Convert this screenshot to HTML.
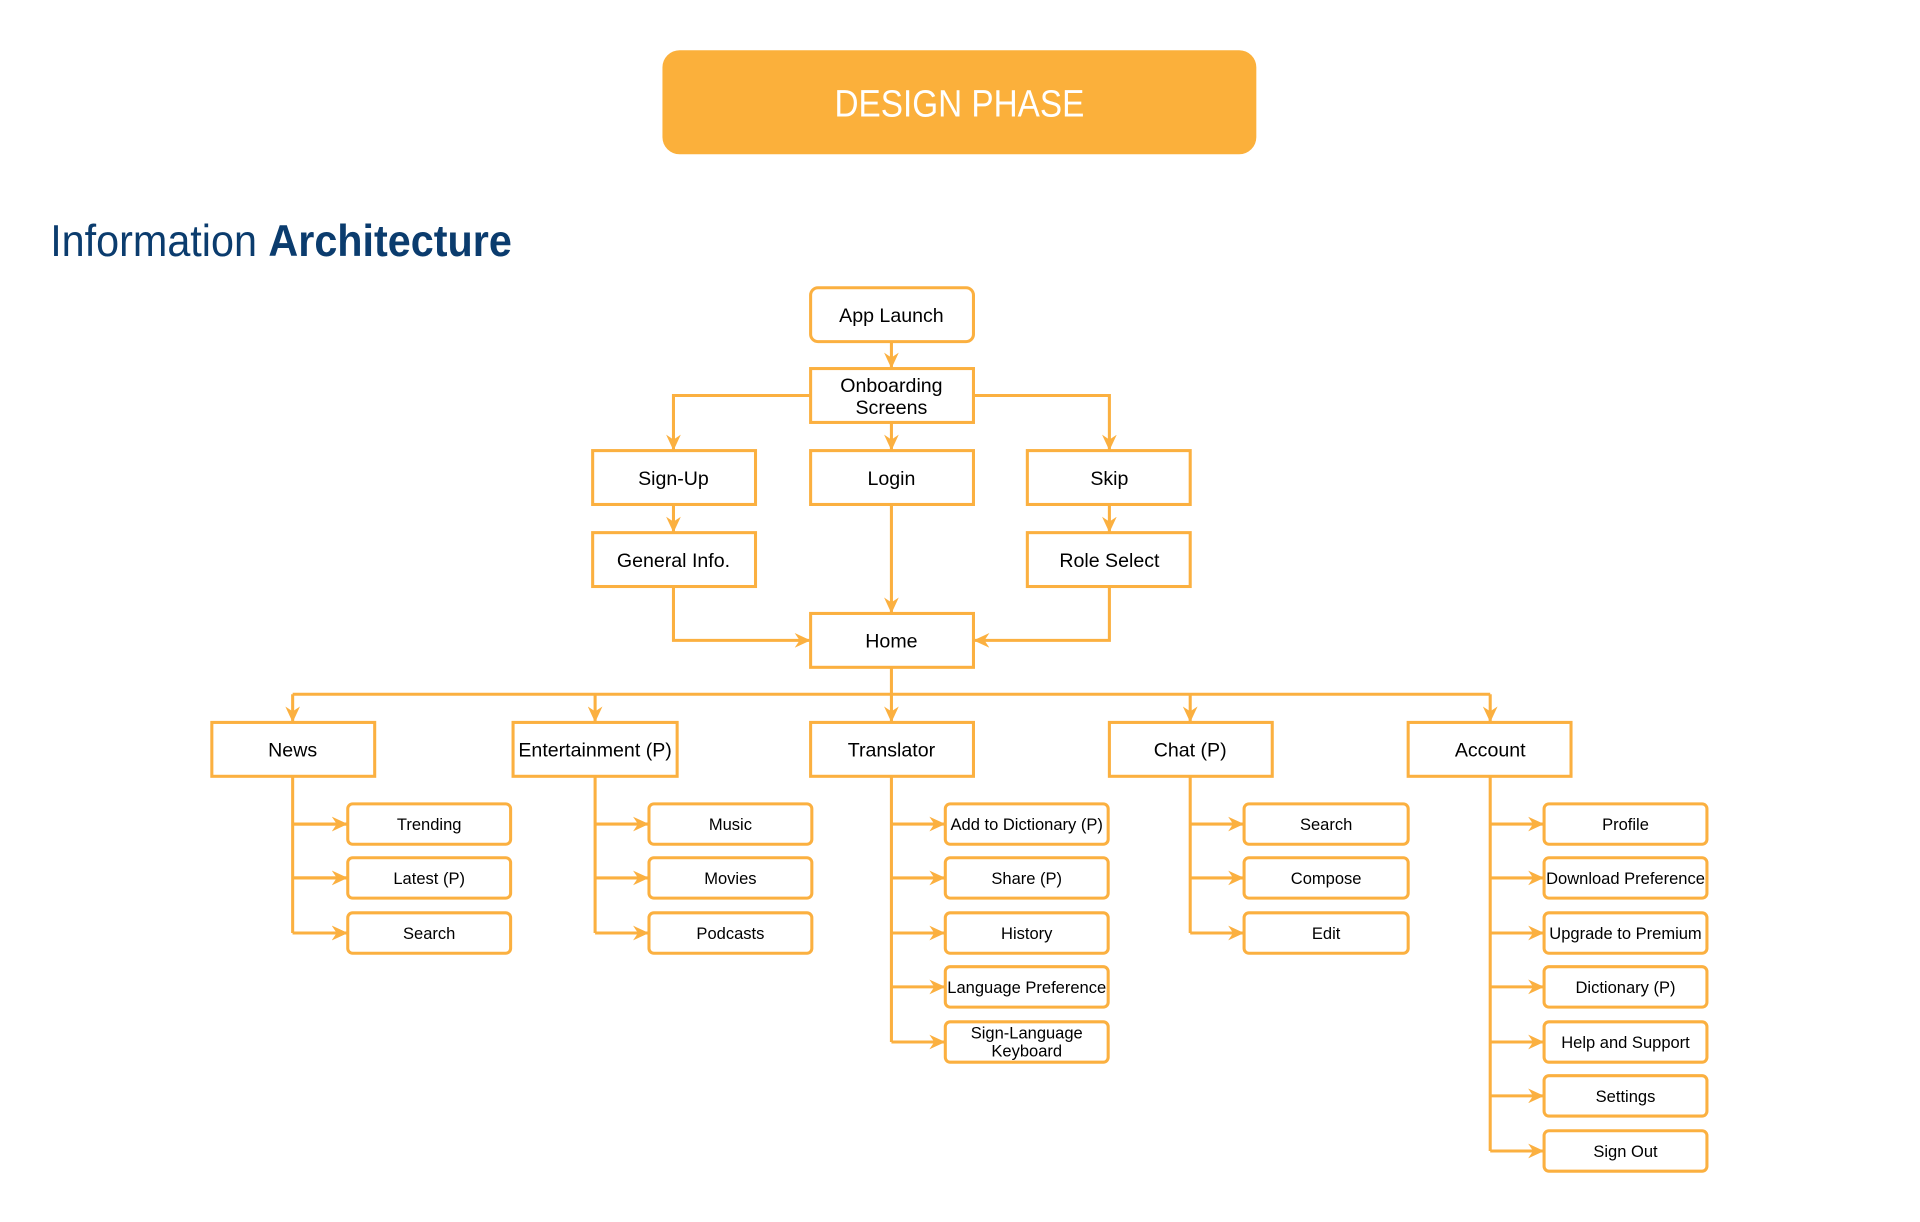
<!DOCTYPE html>
<html><head><meta charset="utf-8"><style>
html,body{margin:0;padding:0;background:#fff;}
svg{display:block;}
text{font-family:"Liberation Sans",Arial,sans-serif;fill:#000;}
</style></head><body>
<svg width="1920" height="1222" viewBox="0 0 1568 998" preserveAspectRatio="none" xmlns="http://www.w3.org/2000/svg">
<defs>
<marker id="a" markerWidth="14" markerHeight="12" refX="13" refY="6" orient="auto" markerUnits="userSpaceOnUse">
<path d="M0,0 L13,6 L0,12 L4,6 Z" fill="#FBB040"/>
</marker>
</defs>
<rect x="541" y="41" width="485" height="85" rx="14" fill="#FBB03B"/>
<text x="783.5" y="95" font-size="31" text-anchor="middle" style="fill:#fff" textLength="204" lengthAdjust="spacingAndGlyphs">DESIGN PHASE</text>
<text x="41" y="209" font-size="36" style="fill:#0b3c6e" textLength="377" lengthAdjust="spacingAndGlyphs">Information <tspan font-weight="bold" style="fill:#0b3c6e">Architecture</tspan></text>

<g fill="none" stroke="#FBB040" stroke-width="2.5">
<!-- top connectors -->
<path d="M728,279 V301" marker-end="url(#a)"/>
<path d="M662,323 H550 V368" marker-end="url(#a)"/>
<path d="M795,323 H906 V368" marker-end="url(#a)"/>
<path d="M728,345 V368" marker-end="url(#a)"/>
<path d="M550,412 V435" marker-end="url(#a)"/>
<path d="M906,412 V435" marker-end="url(#a)"/>
<path d="M728,412 V501" marker-end="url(#a)"/>
<path d="M550,479 V523 H662" marker-end="url(#a)"/>
<path d="M906,479 V523 H795" marker-end="url(#a)"/>
<path d="M728,545 V567"/>
<path d="M239,567 H1217"/>
<path d="M239,567 V590" marker-end="url(#a)"/>
<path d="M486,567 V590" marker-end="url(#a)"/>
<path d="M728,567 V590" marker-end="url(#a)"/>
<path d="M972,567 V590" marker-end="url(#a)"/>
<path d="M1217,567 V590" marker-end="url(#a)"/>
<!-- leaf verticals -->
<path d="M239,634 V762"/>
<path d="M486,634 V762"/>
<path d="M728,634 V851"/>
<path d="M972,634 V762"/>
<path d="M1217,634 V940"/>
<!-- leaf horizontals -->
<path d="M239,673H284M239,717H284M239,762H284" marker-end="url(#a)"/>
</g>
<g fill="none" stroke="#FBB040" stroke-width="2.5">
<path d="M239,673H284" marker-end="url(#a)"/><path d="M239,717H284" marker-end="url(#a)"/><path d="M239,762H284" marker-end="url(#a)"/>
<path d="M486,673H530" marker-end="url(#a)"/><path d="M486,717H530" marker-end="url(#a)"/><path d="M486,762H530" marker-end="url(#a)"/>
<path d="M728,673H772" marker-end="url(#a)"/><path d="M728,717H772" marker-end="url(#a)"/><path d="M728,762H772" marker-end="url(#a)"/><path d="M728,806H772" marker-end="url(#a)"/><path d="M728,851H772" marker-end="url(#a)"/>
<path d="M972,673H1016" marker-end="url(#a)"/><path d="M972,717H1016" marker-end="url(#a)"/><path d="M972,762H1016" marker-end="url(#a)"/>
<path d="M1217,673H1261" marker-end="url(#a)"/><path d="M1217,717H1261" marker-end="url(#a)"/><path d="M1217,762H1261" marker-end="url(#a)"/><path d="M1217,806H1261" marker-end="url(#a)"/><path d="M1217,851H1261" marker-end="url(#a)"/><path d="M1217,895H1261" marker-end="url(#a)"/><path d="M1217,940H1261" marker-end="url(#a)"/>
</g>

<!-- main boxes -->
<g fill="#fff" stroke="#FBB040" stroke-width="2.5">
<rect x="662" y="235" width="133" height="44" rx="6"/>
<rect x="662" y="301" width="133" height="44"/>
<rect x="484" y="368" width="133" height="44"/>
<rect x="662" y="368" width="133" height="44"/>
<rect x="839" y="368" width="133" height="44"/>
<rect x="484" y="435" width="133" height="44"/>
<rect x="839" y="435" width="133" height="44"/>
<rect x="662" y="501" width="133" height="44"/>
<rect x="173" y="590" width="133" height="44"/>
<rect x="419" y="590" width="134" height="44"/>
<rect x="662" y="590" width="133" height="44"/>
<rect x="906" y="590" width="133" height="44"/>
<rect x="1150" y="590" width="133" height="44"/>
</g>
<g font-size="16" text-anchor="middle">
<text x="728" y="263">App Launch</text>
<text x="728" y="320">Onboarding</text>
<text x="728" y="338">Screens</text>
<text x="550" y="396">Sign-Up</text>
<text x="728" y="396">Login</text>
<text x="906" y="396">Skip</text>
<text x="550" y="463">General Info.</text>
<text x="906" y="463">Role Select</text>
<text x="728" y="529">Home</text>
<text x="239" y="618">News</text>
<text x="486" y="618">Entertainment (P)</text>
<text x="728" y="618">Translator</text>
<text x="972" y="618">Chat (P)</text>
<text x="1217" y="618">Account</text>
</g>

<!-- leaves -->
<g fill="#fff" stroke="#FBB040" stroke-width="2.5">
<rect x="284" y="656.5" width="133" height="33" rx="4"/><rect x="284" y="700.5" width="133" height="33" rx="4"/><rect x="284" y="745.5" width="133" height="33" rx="4"/>
<rect x="530" y="656.5" width="133" height="33" rx="4"/><rect x="530" y="700.5" width="133" height="33" rx="4"/><rect x="530" y="745.5" width="133" height="33" rx="4"/>
<rect x="772" y="656.5" width="133" height="33" rx="4"/><rect x="772" y="700.5" width="133" height="33" rx="4"/><rect x="772" y="745.5" width="133" height="33" rx="4"/><rect x="772" y="789.5" width="133" height="33" rx="4"/><rect x="772" y="834.5" width="133" height="33" rx="4"/>
<rect x="1016" y="656.5" width="134" height="33" rx="4"/><rect x="1016" y="700.5" width="134" height="33" rx="4"/><rect x="1016" y="745.5" width="134" height="33" rx="4"/>
<rect x="1261" y="656.5" width="133" height="33" rx="4"/><rect x="1261" y="700.5" width="133" height="33" rx="4"/><rect x="1261" y="745.5" width="133" height="33" rx="4"/><rect x="1261" y="789.5" width="133" height="33" rx="4"/><rect x="1261" y="834.5" width="133" height="33" rx="4"/><rect x="1261" y="878.5" width="133" height="33" rx="4"/><rect x="1261" y="923.5" width="133" height="33" rx="4"/>
</g>
<g font-size="13.5" text-anchor="middle">
<text x="350.5" y="678">Trending</text><text x="350.5" y="722">Latest (P)</text><text x="350.5" y="767">Search</text>
<text x="596.5" y="678">Music</text><text x="596.5" y="722">Movies</text><text x="596.5" y="767">Podcasts</text>
<text x="838.5" y="678">Add to Dictionary (P)</text><text x="838.5" y="722">Share (P)</text><text x="838.5" y="767">History</text><text x="838.5" y="811">Language Preference</text>
<text x="838.5" y="848">Sign-Language</text><text x="838.5" y="863">Keyboard</text>
<text x="1083" y="678">Search</text><text x="1083" y="722">Compose</text><text x="1083" y="767">Edit</text>
<text x="1327.5" y="678">Profile</text><text x="1327.5" y="722">Download Preference</text><text x="1327.5" y="767">Upgrade to Premium</text><text x="1327.5" y="811">Dictionary (P)</text><text x="1327.5" y="856">Help and Support</text><text x="1327.5" y="900">Settings</text><text x="1327.5" y="945">Sign Out</text>
</g>
</svg>
</body></html>
